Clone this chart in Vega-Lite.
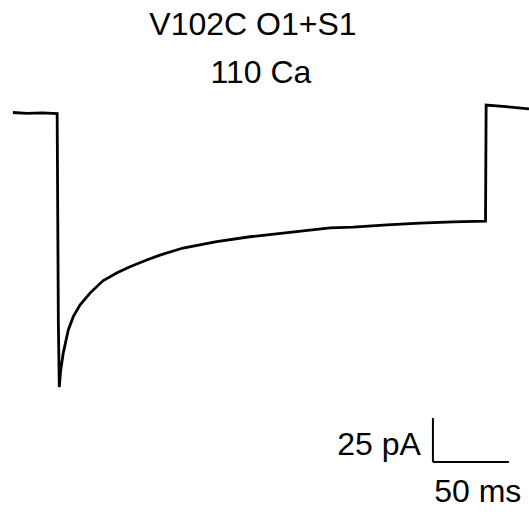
{
  "$schema": "https://vega.github.io/schema/vega-lite/v6.json",
  "width": 529,
  "height": 514,
  "autosize": {"type": "fit", "contains": "padding"},
  "padding": 0,
  "background": "white",
  "config": {"view": {"stroke": null}},
  "datasets": {
    "trace": [
      {"i": 0, "t": -29.3, "I": 0.3},
      {"i": 1, "t": -20, "I": -0.2},
      {"i": 2, "t": -10, "I": 0.1},
      {"i": 3, "t": -0.2, "I": -0.3},
      {"i": 4, "t": 0.2, "I": -60},
      {"i": 5, "t": 0.6, "I": -120},
      {"i": 6, "t": 1.2, "I": -155.7},
      {"i": 7, "t": 2.0, "I": -147},
      {"i": 8, "t": 3.8, "I": -136.4},
      {"i": 9, "t": 7.1, "I": -123.3},
      {"i": 10, "t": 10.4, "I": -115.7},
      {"i": 11, "t": 14.8, "I": -109.1},
      {"i": 12, "t": 21.4, "I": -102.3},
      {"i": 13, "t": 29.9, "I": -95.3},
      {"i": 14, "t": 38.9, "I": -90.9},
      {"i": 15, "t": 47.7, "I": -87.3},
      {"i": 16, "t": 58.7, "I": -83.5},
      {"i": 17, "t": 67.4, "I": -80.7},
      {"i": 18, "t": 82.6, "I": -76.7},
      {"i": 19, "t": 104.7, "I": -73.1},
      {"i": 20, "t": 126.6, "I": -70.3},
      {"i": 21, "t": 148.4, "I": -68.2},
      {"i": 22, "t": 179.3, "I": -65.3},
      {"i": 23, "t": 194.4, "I": -64.8},
      {"i": 24, "t": 216.8, "I": -63.6},
      {"i": 25, "t": 238.5, "I": -62.5},
      {"i": 26, "t": 260.2, "I": -61.8},
      {"i": 27, "t": 281.6, "I": -61.4},
      {"i": 28, "t": 282.0, "I": 4.5},
      {"i": 29, "t": 295, "I": 3.6},
      {"i": 30, "t": 310.2, "I": 2.4}
    ],
    "bar": [
      {"x1": 247, "x2": 247, "y1": -198.3, "y2": -173.3},
      {"x1": 247, "x2": 297, "y1": -198.3, "y2": -198.3}
    ],
    "labels": [
      {"t": 128.6, "I": 44.3, "label": "V102C O1+S1"},
      {"t": 133.9, "I": 17, "label": "110 Ca"},
      {"t": 276.5, "I": -221, "label": "50 ms"}
    ],
    "labelsRight": [
      {"t": 239.1, "I": -194.3, "label": "25 pA"}
    ]
  },
  "layer": [
    {
      "data": {"name": "trace"},
      "mark": {"type": "line", "color": "black", "strokeWidth": 2.8, "strokeJoin": "miter", "clip": true},
      "encoding": {
        "x": {"field": "t", "type": "quantitative", "scale": {"domain": [-37.8, 310.2], "nice": false, "zero": false}, "axis": null},
        "y": {"field": "I", "type": "quantitative", "scale": {"domain": [-227.8, 64.2], "nice": false, "zero": false}, "axis": null},
        "order": {"field": "i", "type": "quantitative"}
      }
    },
    {
      "data": {"name": "bar"},
      "mark": {"type": "rule", "color": "black", "strokeWidth": 2},
      "encoding": {
        "x": {"field": "x1", "type": "quantitative"},
        "x2": {"field": "x2"},
        "y": {"field": "y1", "type": "quantitative"},
        "y2": {"field": "y2"}
      }
    },
    {
      "data": {"name": "labels"},
      "mark": {"type": "text", "font": "Liberation Sans", "fontSize": 32, "align": "center", "baseline": "alphabetic", "color": "black"},
      "encoding": {
        "x": {"field": "t", "type": "quantitative"},
        "y": {"field": "I", "type": "quantitative"},
        "text": {"field": "label"}
      }
    },
    {
      "data": {"name": "labelsRight"},
      "mark": {"type": "text", "font": "Liberation Sans", "fontSize": 32, "align": "right", "baseline": "alphabetic", "color": "black"},
      "encoding": {
        "x": {"field": "t", "type": "quantitative"},
        "y": {"field": "I", "type": "quantitative"},
        "text": {"field": "label"}
      }
    }
  ]
}
